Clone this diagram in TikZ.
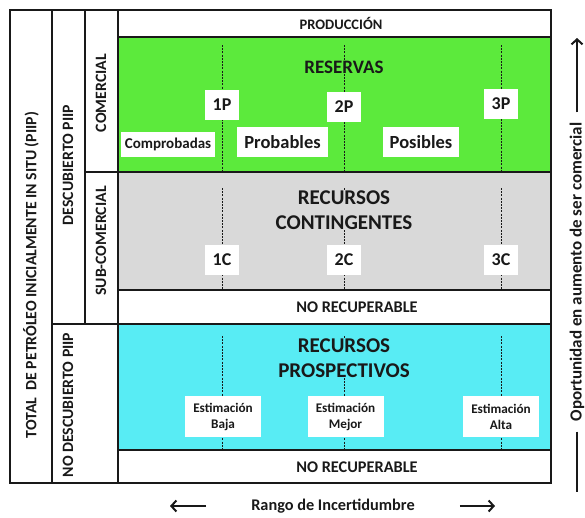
\documentclass[tikz,border=0pt]{standalone}
\usepackage{fontspec}
\setmainfont{Carlito}
\usetikzlibrary{arrows.meta}

\definecolor{resgreen}{RGB}{92,234,60}
\definecolor{congray}{RGB}{217,217,217}
\definecolor{procyan}{RGB}{88,236,244}
\definecolor{ink}{RGB}{25,25,25}

\tikzset{
    gridline/.style={line width=1.6pt, draw=ink},
    dashline/.style={line width=0.9pt, dash pattern=on 2pt off 1.2pt, draw=ink},
    bandtitle/.style={font=\bfseries\fontsize{21}{25}\selectfont, align=center, inner sep=1pt, text=ink},
    rowtitle/.style={font=\bfseries\fontsize{16.3}{18}\selectfont, text=ink},
    sidetitle/.style={font=\bfseries\fontsize{15.8}{18}\selectfont, rotate=90, text=ink},
    numbox/.style={fill=white, font=\bfseries\fontsize{18}{20}\selectfont, minimum width=34pt, minimum height=30pt, inner sep=0pt, text=ink},
    namebox/.style={fill=white, font=\bfseries\fontsize{18.5}{20}\selectfont, minimum height=30pt, inner sep=0pt, text=ink},
    estbox/.style={fill=white, font=\bfseries\fontsize{13.2}{16}\selectfont, align=center, minimum width=76pt, minimum height=41pt, inner sep=0pt, text=ink},
    axisarrow/.style={line width=2pt, draw=ink, -{Straight Barb[length=5pt,width=11pt]}},
}

\begin{document}
\begin{tikzpicture}[x=1pt, y=-1pt]
    \useasboundingbox (0,0) rectangle (585,517);

    % Background colours of the resource classes
    \fill[resgreen] (118,37) rectangle (551,172);
    \fill[congray]  (118,172) rectangle (551,290);
    \fill[procyan]  (118,324) rectangle (551,450);

    % Dashed lines: low, best and high estimate
    \foreach \x in {222,344,501} {
        \draw[dashline] (\x,45) -- (\x,172);
        \draw[dashline] (\x,188) -- (\x,290);
        \draw[dashline] (\x,336) -- (\x,450);
    }

    % Class titles
    \node[rowtitle, font=\bfseries\fontsize{14.5}{16}\selectfont] (produccion) at (341,23) {PRODUCCIÓN};
    \node[bandtitle, fill=resgreen, font=\bfseries\fontsize{19}{22}\selectfont] (reservas) at (344,67) {RESERVAS};
    \node[bandtitle, fill=congray] (contingentes) at (344,210) {RECURSOS\\CONTINGENTES};
    \node[bandtitle, fill=procyan] (prospectivos) at (344,358) {RECURSOS\\PROSPECTIVOS};
    \node[rowtitle] (norec1) at (357,307) {NO RECUPERABLE};
    \node[rowtitle] (norec2) at (357,467) {NO RECUPERABLE};

    % Reserve categories
    \node[numbox] (p1) at (222,105) {1P};
    \node[numbox] (p2) at (344,107) {2P};
    \node[numbox] (p3) at (501,104) {3P};
    \node[namebox, font=\bfseries\fontsize{15}{17}\selectfont, minimum width=94pt, minimum height=25pt] (comprobadas) at (168,144.5) {Comprobadas};
    \node[namebox, minimum width=91pt] (probables) at (282.5,142) {Probables};
    \node[namebox, minimum width=76pt] (posibles) at (421,142) {Posibles};

    % Contingent categories
    \node[numbox] (c1) at (222,260) {1C};
    \node[numbox] (c2) at (344,260) {2C};
    \node[numbox] (c3) at (501,260) {3C};

    % Prospective estimates
    \node[estbox] (baja) at (223,416.5) {Estimación\\Baja};
    \node[estbox] (mejor) at (345.5,416.5) {Estimación\\Mejor};
    \node[estbox] (alta) at (501,416.5) {Estimación\\Alta};

    % Table grid
    \draw[gridline] (118,37) -- (551,37);
    \draw[gridline] (85,172) -- (551,172);
    \draw[gridline] (118,290) -- (551,290);
    \draw[gridline] (52,324) -- (551,324);
    \draw[gridline] (118,450) -- (551,450);
    \draw[gridline] (52,10) -- (52,483);
    \draw[gridline] (85,10) -- (85,324);
    \draw[gridline] (118,10) -- (118,483);
    \draw[line width=2.6pt, draw=ink] (10,10) rectangle (551,483);

    % Side titles
    \node[sidetitle] (piip) at (31,275) {TOTAL\ \ DE PETRÓLEO INICIALMENTE IN SITU (PIIP)};
    \node[sidetitle] (descubierto) at (68,165) {DESCUBIERTO PIIP};
    \node[sidetitle] (nodescubierto) at (68,405) {NO DESCUBIERTO PIIP};
    \node[sidetitle] (comercial) at (101,93) {COMERCIAL};
    \node[sidetitle] (subcomercial) at (101,241) {SUB-COMERCIAL};

    % Axis: chance of commerciality
    \node[sidetitle, font=\bfseries\fontsize{17}{19}\selectfont, inner xsep=10pt] (oportunidad) at (577,272) {Oportunidad en aumento de ser comercial};
    \coordinate (optop) at (577,38);
    \coordinate (opbot) at (577,492);
    \draw[axisarrow] (oportunidad.east) -- (optop);
    \draw[line width=2pt, draw=ink] (oportunidad.west) -- (opbot);

    % Axis: range of uncertainty
    \node[rowtitle, inner xsep=45pt] (rango) at (333,506) {Rango de Incertidumbre};
    \coordinate (rleft) at (170,506);
    \coordinate (rright) at (495,506);
    \draw[axisarrow] (rango.west) -- (rleft);
    \draw[axisarrow] (rango.east) -- (rright);
\end{tikzpicture}
\end{document}
